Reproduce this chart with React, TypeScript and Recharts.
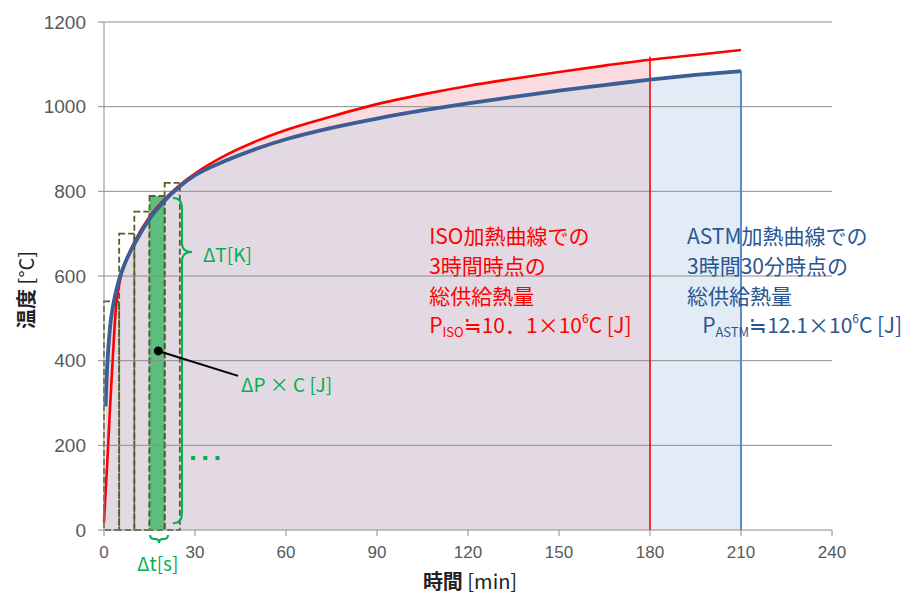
import React from "react";
import {
  ComposedChart,
  Area,
  Line,
  XAxis,
  YAxis,
  ReferenceLine,
  ReferenceArea,
  ReferenceDot,
} from "recharts";

// time [min] and temperatures
const TIME = [0, 0.5, 1, 2, 3, 4, 5, 7.5, 10, 15, 20, 25, 30, 40, 50, 60, 75, 90, 105, 120, 135, 150, 165, 180, 195, 210];
const ISO = [18, 85, 150, 290, 420, 530, 580, 640, 680, 740, 782, 815, 842, 885, 918, 945, 977, 1006, 1029, 1049, 1066, 1082, 1097, 1111, 1122, 1134];
const ASTM = [null, 292, 380, 480, 530, 565, 592, 640, 675, 735, 778, 812, 838, 872, 900, 923, 950, 972, 991, 1008, 1023, 1038, 1051, 1064, 1075, 1084];

const X_TICKS = [0, 30, 60, 90, 120, 150, 180, 210, 240];
const Y_TICKS = [0, 200, 400, 600, 800, 1000, 1200];

// dashed step boxes (5 min wide)
const BOX_START = [0, 5, 10, 15, 20];
const BOX_TOP = [540, 700, 752, 789, 820];
const BOX_FILLED = 3;

const ISO_END = 180;
const ASTM_END = 210;

const ISO_LINES = ["ISO加熱曲線での", "3時間時点の", "総供給熱量"];
const ASTM_LINES = ["ASTM加熱曲線での", "3時間30分時点の", "総供給熱量"];

const JP = "'Noto Sans CJK JP', 'Noto Sans', sans-serif";
const GREEN = "#00B050";
const OLIVE = "#4F6228";
const RED = "#FF0000";
const NAVY = "#2B5590";
const GRID = "#8C8C8C";

const rows = TIME.map((t, i) => ({
  t,
  iso: ISO[i],
  astm: ASTM[i],
  isoFill: t <= ISO_END ? ISO[i] : null,
  astmFill: t <= ISO_END ? ASTM[i] : null,
  astmTail: t >= ISO_END ? ASTM[i] : null,
}));

const textAt = (lines: string[], color: string, gap: number) => (p: any) => (
  <text x={p.cx} y={p.cy} fill={color} fontSize={21} fontFamily={JP} dominantBaseline="central">
    {lines.map((s, i) => (
      <tspan key={i} x={p.cx} dy={i === 0 ? 0 : gap}>
        {s}
      </tspan>
    ))}
  </text>
);

const pLine = (sub: string, value: string, color: string) => (p: any) => (
  <text x={p.cx} y={p.cy} fill={color} fontSize={21} fontFamily={JP} dominantBaseline="central">
    <tspan>P</tspan>
    <tspan fontSize={13} dy={7}>{sub}</tspan>
    <tspan dy={-7}>{value}</tspan>
    <tspan fontSize={12} dy={-7}>6</tspan>
    <tspan dy={7}>C [J]</tspan>
  </text>
);

const greenText = (s: string) => (p: any) => (
  <text x={p.cx} y={p.cy} fill={GREEN} fontSize={19} fontFamily={JP} dominantBaseline="central">
    {s}
  </text>
);

const dots = (p: any) => (
  <g fill={GREEN}>
    {[0, 1, 2, 3].map((i) => (
      <rect key={i} x={p.cx + i * 12.2} y={p.cy - 2} width={4} height={4} />
    ))}
  </g>
);

// vertical "}" brace; cusp sits 1/6 down from the top
const vBrace = (p: any) => {
  const x = p.x1;
  const y1 = Math.min(p.y1, p.y2);
  const y2 = Math.max(p.y1, p.y2);
  const yc = y1 + (y2 - y1) * 0.166;
  const d = `M${x - 9},${y1} Q${x},${y1} ${x},${y1 + 10} L${x},${yc - 9} Q${x},${yc} ${x + 10},${yc} Q${x},${yc} ${x},${yc + 9} L${x},${y2 - 10} Q${x},${y2} ${x - 9},${y2}`;
  return <path d={d} fill="none" stroke={GREEN} strokeWidth={2} />;
};

// horizontal brace opening up
const hBrace = (p: any) => {
  const y = p.y1;
  const xa = Math.min(p.x1, p.x2);
  const xb = Math.max(p.x1, p.x2);
  const xc = (xa + xb) / 2;
  const d = `M${xa},${y} Q${xa},${y + 4} ${xa + 4},${y + 4} L${xc - 4},${y + 4} Q${xc},${y + 4} ${xc},${y + 8} Q${xc},${y + 4} ${xc + 4},${y + 4} L${xb - 4},${y + 4} Q${xb},${y + 4} ${xb},${y}`;
  return <path d={d} fill="none" stroke={GREEN} strokeWidth={2} />;
};

const YLabel = () => (
  <text x={25} y={290} transform="rotate(-90 25 290)" textAnchor="middle" dominantBaseline="central" fontSize={20} fontFamily={JP} fill="#222">
    <tspan fontWeight="bold">温度</tspan>
    <tspan> [°C]</tspan>
  </text>
);

const XLabel = () => (
  <text x={470} y={580} textAnchor="middle" dominantBaseline="central" fontSize={20} fontFamily={JP} fill="#222">
    <tspan fontWeight="bold">時間</tspan>
    <tspan> [min]</tspan>
  </text>
);

export default function App() {
  return (
    <div style={{ position: "absolute", left: 0, top: 0, width: 912, height: 599, background: "#fff" }}>
      <ComposedChart width={912} height={599} data={rows} margin={{ top: 22, right: 80, bottom: 0, left: 0 }}>
        <XAxis
          type="number"
          dataKey="t"
          domain={[0, 240]}
          ticks={X_TICKS}
          height={69}
          tickSize={6}
          tickMargin={10}
          stroke={GRID}
          tick={{ fill: "#595959", fontSize: 17, fontFamily: "'Liberation Sans Narrow', 'Liberation Sans', sans-serif" }}
          label={<XLabel />}
        />
        <YAxis
          type="number"
          domain={[0, 1200]}
          ticks={Y_TICKS}
          width={104}
          tickSize={6}
          tickMargin={12}
          stroke={GRID}
          tick={{ fill: "#595959", fontSize: 19, fontFamily: "'Liberation Sans', sans-serif" }}
          label={<YLabel />}
        />

        <Area dataKey="isoFill" type="monotone" stroke="none" fill="#FADCE0" fillOpacity={1} isAnimationActive={false} />
        <Area dataKey="astmFill" type="monotone" stroke="none" fill="#E3D9E2" fillOpacity={1} isAnimationActive={false} />
        <Area dataKey="astmTail" type="monotone" stroke="none" fill="#E2ECF7" fillOpacity={1} isAnimationActive={false} />

        {Y_TICKS.slice(1).map((v) => (
          <ReferenceLine key={v} y={v} stroke={GRID} strokeWidth={1} />
        ))}

        {BOX_START.map((s, i) => (
          <ReferenceArea
            key={s}
            x1={s}
            x2={s + 5}
            y1={0}
            y2={BOX_TOP[i]}
            fill={i === BOX_FILLED ? "#5CBF80" : "none"}
            fillOpacity={1}
            stroke={OLIVE}
            strokeWidth={1.8}
            strokeDasharray="6 3"
          />
        ))}

        <ReferenceLine segment={[{ x: ISO_END, y: 0 }, { x: ISO_END, y: 1118 }]} stroke={RED} strokeWidth={1.6} />
        <ReferenceLine segment={[{ x: ASTM_END, y: 0 }, { x: ASTM_END, y: 1084 }]} stroke="#5B8BCB" strokeWidth={2} />

        <Line dataKey="iso" type="monotone" stroke={RED} strokeWidth={2.6} dot={false} isAnimationActive={false} />
        <Line dataKey="astm" type="monotone" stroke="#3B5E94" strokeWidth={3.8} dot={false} connectNulls isAnimationActive={false} />

        <ReferenceLine segment={[{ x: 25.7, y: 784 }, { x: 25.7, y: 16 }]} shape={vBrace} />
        <ReferenceLine segment={[{ x: 15.2, y: -12 }, { x: 21.1, y: -12 }]} shape={hBrace} ifOverflow="visible" />
        <ReferenceLine segment={[{ x: 17.9, y: 423 }, { x: 44.2, y: 364 }]} stroke="#000" strokeWidth={2} />
        <ReferenceDot x={17.9} y={423} r={4.5} fill="#000" stroke="none" />

        <ReferenceDot x={32.6} y={654} r={0} shape={greenText("ΔT[K]")} />
        <ReferenceDot x={45.2} y={345} r={0} shape={greenText("ΔP × C [J]")} />
        <ReferenceDot x={24.7} y={170} r={0} shape={dots} />
        <ReferenceDot x={10.9} y={-76} r={0} shape={greenText("Δt[s]")} ifOverflow="visible" />

        <ReferenceDot x={107.2} y={697} r={0} shape={textAt(ISO_LINES, RED, 30)} />
        <ReferenceDot x={107.2} y={486} r={0} shape={pLine("ISO", "≒10．1×10", RED)} />
        <ReferenceDot x={192.2} y={697} r={0} shape={textAt(ASTM_LINES, NAVY, 30)} />
        <ReferenceDot x={197.2} y={486} r={0} shape={pLine("ASTM", "≒12.1×10", NAVY)} />
      </ComposedChart>
    </div>
  );
}
